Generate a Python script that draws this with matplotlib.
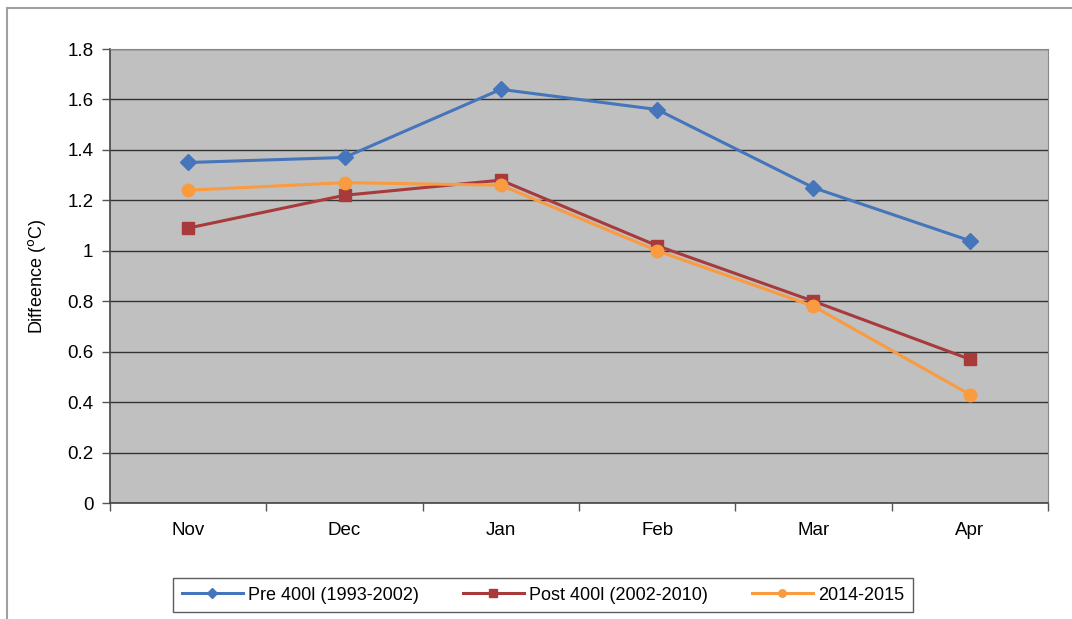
import numpy as np
import matplotlib.pyplot as plt
from matplotlib.patches import Rectangle

months = ["Nov", "Dec", "Jan", "Feb", "Mar", "Apr"]
pre_400l = [1.35, 1.37, 1.64, 1.56, 1.25, 1.04]
post_400l = [1.09, 1.22, 1.28, 1.02, 0.80, 0.57]
season_2014 = [1.24, 1.27, 1.26, 1.00, 0.78, 0.43]
y_ticks = [0, 0.2, 0.4, 0.6, 0.8, 1, 1.2, 1.4, 1.6, 1.8]

plt.rcParams['font.family'] = ['Liberation Sans', 'DejaVu Sans']

fig = plt.figure(figsize=(10.72, 6.19), dpi=100)

# outer chart-area frame
fig.patches.append(Rectangle((7 / 1072, -0.1), 1.2, 1 - 8 / 619 + 0.1,
                             transform=fig.transFigure, fill=False,
                             edgecolor='#a0a0a0', linewidth=1.5))

ax = fig.add_axes([110 / 1072, 1 - 503 / 619, 938 / 1072, 454 / 619])
ax.set_facecolor('#c0c0c0')

x = np.arange(len(months))
ax.plot(x, pre_400l, color='#4575BA', marker='D', markersize=8, linewidth=2.2,
        label='Pre 400l (1993-2002)', zorder=3)
ax.plot(x, post_400l, color='#A83A3C', marker='s', markersize=9, linewidth=2.2,
        label='Post 400l (2002-2010)', zorder=3)
ax.plot(x, season_2014, color='#F99B3E', marker='o', markersize=9, linewidth=2.2,
        label='2014-2015', zorder=4)

ax.set_xlim(-0.5, len(months) - 0.5)
ax.set_ylim(0, 1.8)
ax.set_yticks(y_ticks)
ax.set_yticklabels([f"{v:g}" for v in y_ticks], fontsize=13.5)
ax.set_xticks(x)
ax.set_xticklabels(months, fontsize=13.5)
ax.set_xticks(np.arange(-0.5, len(months)), minor=True)
ax.tick_params(axis='x', which='major', length=0, pad=14)
ax.tick_params(axis='x', which='minor', length=6, width=1, color='#555555')
ax.tick_params(axis='y', length=6, width=1, color='#555555', pad=6)
ax.yaxis.grid(True, color='#333333', linewidth=1)
ax.set_axisbelow(True)

for side in ['top', 'right']:
    ax.spines[side].set_color('#888888')
for side in ['left', 'bottom']:
    ax.spines[side].set_color('#444444')
    ax.spines[side].set_linewidth(1.2)

ax.set_ylabel('Diffeence ($^{\\mathrm{o}}$C)', fontsize=13, labelpad=14)

leg = ax.legend(loc='center', bbox_to_anchor=(543 / 1072, 1 - 595 / 619),
                bbox_transform=fig.transFigure, ncol=3, fontsize=13,
                frameon=True, fancybox=False, edgecolor='#333333',
                markerscale=0.6, handlelength=3.4, handletextpad=0.3,
                columnspacing=2.4, borderpad=0.45)
leg.get_frame().set_linewidth(1)

fig.savefig('out.png', dpi=100)
